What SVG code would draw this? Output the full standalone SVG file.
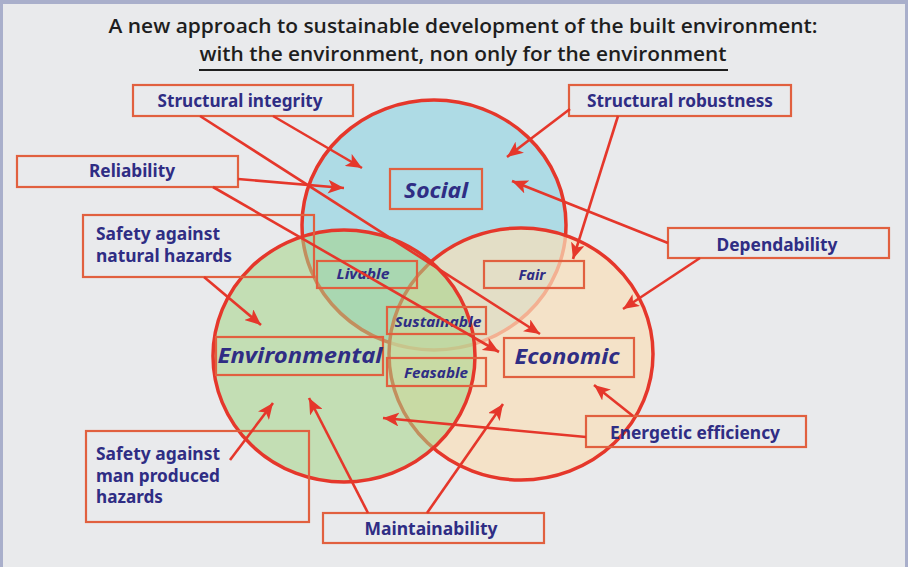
<svg xmlns="http://www.w3.org/2000/svg" width="908" height="567" viewBox="0 0 908 567">
<defs>
<style>
.box{fill:none;stroke:#e1603f;stroke-width:2.2}
.lbl{font-family:"Noto Sans","Open Sans",sans-serif;font-weight:bold;fill:#2f2d84;font-size:17px}
.it{font-family:"Noto Sans","Open Sans",sans-serif;font-weight:bold;font-style:italic;fill:#2f2d84}
.arr{stroke:#e5372b;stroke-width:2.6;fill:none;marker-end:url(#ah)}
.title{font-family:"Open Sans","Noto Sans",sans-serif;font-weight:600;fill:#1e1e1e;font-size:20px}
</style>
<marker id="ah" markerUnits="userSpaceOnUse" markerWidth="18" markerHeight="14" refX="16" refY="7" orient="auto">
<path d="M0,0 L16,7 L0,14 L4,7 Z" fill="#e5372b"/>
</marker>
</defs>
<rect x="0" y="0" width="908" height="567" fill="#a9afcb"/>
<rect x="3" y="4" width="902" height="563" fill="#e9eaec"/>

<g id="title">
<text class="title" x="463" y="33" text-anchor="middle" textLength="709" lengthAdjust="spacingAndGlyphs">A new approach to sustainable development of the built environment:</text>
<text class="title" x="463" y="61" text-anchor="middle" textLength="527" lengthAdjust="spacingAndGlyphs">with the environment, non only for the environment</text>
<line x1="199" y1="70" x2="728" y2="70" stroke="#1e1e1e" stroke-width="2"/>
</g>

<g id="circles">
<ellipse id="circle-social" cx="434" cy="225" rx="132" ry="125" fill="#aedbe5" stroke="#e5372b" stroke-width="3.5"/>
<ellipse id="circle-economic" cx="521" cy="354" rx="132" ry="126" fill="#f8dfba" fill-opacity="0.72" stroke="#e5372b" stroke-width="3.5"/>
<ellipse id="circle-environmental" cx="344" cy="356" rx="131" ry="126" fill="#a5d488" fill-opacity="0.56" stroke="#e5372b" stroke-width="3.5"/>
</g>

<g id="node-social"><rect class="box" x="390" y="169" width="92" height="40"/><text class="it" x="436" y="198" font-size="22" text-anchor="middle" textLength="64" lengthAdjust="spacingAndGlyphs">Social</text></g>
<g id="node-environmental"><rect class="box" x="216" y="337" width="167" height="38"/><text class="it" x="300" y="363" font-size="22" text-anchor="middle" textLength="165" lengthAdjust="spacingAndGlyphs">Environmental</text></g>
<g id="node-economic"><rect class="box" x="504" y="338" width="130" height="39"/><text class="it" x="567" y="364" font-size="22" text-anchor="middle" textLength="105" lengthAdjust="spacingAndGlyphs">Economic</text></g>
<g id="node-livable"><rect class="box" x="317" y="261" width="100" height="27"/><text class="it" x="363" y="279" font-size="14" text-anchor="middle" textLength="53" lengthAdjust="spacingAndGlyphs">Livable</text></g>
<g id="node-fair"><rect class="box" x="484" y="261" width="100" height="27"/><text class="it" x="532" y="280" font-size="14" text-anchor="middle" textLength="27" lengthAdjust="spacingAndGlyphs">Fair</text></g>
<g id="node-sustainable"><rect class="box" x="387" y="307" width="99" height="27"/><text class="it" x="438" y="327" font-size="14" text-anchor="middle" textLength="87" lengthAdjust="spacingAndGlyphs">Sustainable</text></g>
<g id="node-feasable"><rect class="box" x="387" y="358" width="99" height="28"/><text class="it" x="436" y="378" font-size="14" text-anchor="middle" textLength="64" lengthAdjust="spacingAndGlyphs">Feasable</text></g>

<g id="node-structural-integrity"><rect class="box" x="133" y="85" width="220" height="31"/><text class="lbl" x="240" y="107" text-anchor="middle" textLength="165" lengthAdjust="spacingAndGlyphs">Structural integrity</text></g>
<g id="node-reliability"><rect class="box" x="17" y="156" width="221" height="31"/><text class="lbl" x="132" y="177" text-anchor="middle" textLength="86" lengthAdjust="spacingAndGlyphs">Reliability</text></g>
<g id="node-safety-natural"><rect class="box" x="83" y="215" width="231" height="62"/><text class="lbl" x="96" y="240" textLength="124" lengthAdjust="spacingAndGlyphs">Safety against</text><text class="lbl" x="96" y="262" textLength="136" lengthAdjust="spacingAndGlyphs">natural hazards</text></g>
<g id="node-structural-robustness"><rect class="box" x="569" y="85" width="222" height="31"/><text class="lbl" x="680" y="107" text-anchor="middle" textLength="186" lengthAdjust="spacingAndGlyphs">Structural robustness</text></g>
<g id="node-dependability"><rect class="box" x="668" y="228" width="221" height="30"/><text class="lbl" x="777" y="251" text-anchor="middle" textLength="121" lengthAdjust="spacingAndGlyphs">Dependability</text></g>
<g id="node-safety-man"><rect class="box" x="86" y="431" width="223" height="91"/><text class="lbl" x="96" y="460" textLength="124" lengthAdjust="spacingAndGlyphs">Safety against</text><text class="lbl" x="96" y="482" textLength="124" lengthAdjust="spacingAndGlyphs">man produced</text><text class="lbl" x="96" y="503" textLength="67" lengthAdjust="spacingAndGlyphs">hazards</text></g>
<g id="node-maintainability"><rect class="box" x="323" y="513" width="221" height="30"/><text class="lbl" x="431" y="535" text-anchor="middle" textLength="133" lengthAdjust="spacingAndGlyphs">Maintainability</text></g>
<g id="node-energetic"><rect class="box" x="586" y="416" width="220" height="31"/><text class="lbl" x="695" y="439" text-anchor="middle" textLength="170" lengthAdjust="spacingAndGlyphs">Energetic efficiency</text></g>

<g id="connectors">
<line class="arr" x1="273" y1="116" x2="362" y2="168"/>
<line class="arr" x1="200" y1="116" x2="540" y2="334"/>
<line class="arr" x1="238" y1="179" x2="344" y2="188"/>
<line class="arr" x1="213" y1="187" x2="499" y2="352"/>
<line class="arr" x1="204" y1="277" x2="261" y2="325"/>
<line class="arr" x1="570" y1="109" x2="507" y2="157"/>
<line class="arr" x1="618" y1="116" x2="573" y2="259"/>
<line class="arr" x1="668" y1="243" x2="512" y2="181"/>
<line class="arr" x1="700" y1="258" x2="623" y2="309"/>
<line class="arr" x1="633" y1="416" x2="594" y2="385"/>
<line class="arr" x1="586" y1="437" x2="383" y2="418"/>
<line class="arr" x1="230" y1="460" x2="273" y2="403"/>
<line class="arr" x1="368" y1="513" x2="309" y2="398"/>
<line class="arr" x1="427" y1="513" x2="503" y2="404"/>
</g>
</svg>
